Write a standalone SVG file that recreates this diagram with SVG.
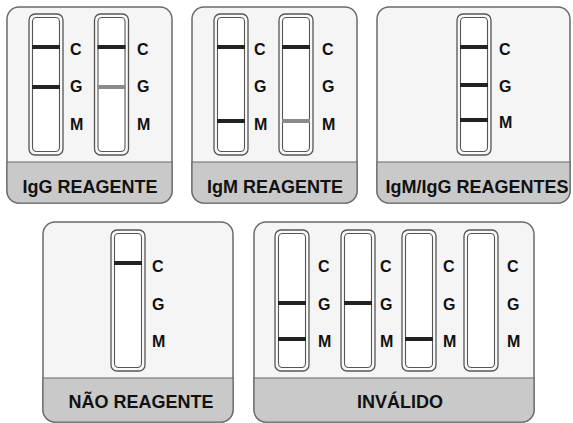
<svg xmlns="http://www.w3.org/2000/svg" width="573" height="423" viewBox="0 0 573 423">
<style>
.panel{fill:#f5f5f5;stroke:#6a6a6a;stroke-width:1.5}
.band{fill:#c9c9c9;stroke:#6a6a6a;stroke-width:1.2}
.so{fill:#fafafa;stroke:#555;stroke-width:1.3}
.si{fill:#fff;stroke:#555;stroke-width:1.1}
.ln{fill:#222}
.lf{fill:#8a8a8a}
.lt{font-family:"Liberation Sans",Arial,sans-serif;font-weight:bold;font-size:16px;fill:#111}
.tt{font-family:"Liberation Sans",Arial,sans-serif;font-weight:bold;font-size:18px;fill:#111;text-anchor:middle}
</style>
<rect width="573" height="423" fill="#fff"/>
<defs>
<g id="strip"><rect class="so" x="0" y="0" width="34" height="141" rx="6"/><rect class="si" x="3.5" y="3.5" width="27" height="134" rx="4"/></g>
</defs>

<g id="igg">
<rect class="panel" x="7" y="7" width="165" height="196" rx="12"/>
<path class="band" d="M7 162 H172 V191 A12 12 0 0 1 160 203 H19 A12 12 0 0 1 7 191 Z"/>
<use href="#strip" x="29" y="14"/>
<use href="#strip" x="94.5" y="14"/>
<rect class="ln" x="32" y="45" width="28" height="4"/>
<rect class="ln" x="32" y="85" width="28" height="4"/>
<rect class="ln" x="97.5" y="45" width="28" height="4"/>
<rect class="lf" x="97.5" y="85" width="28" height="4"/>
<text class="lt" x="70" y="55">C</text><text class="lt" x="70" y="92">G</text><text class="lt" x="70" y="130">M</text>
<text class="lt" x="137" y="55">C</text><text class="lt" x="137" y="92">G</text><text class="lt" x="137" y="130">M</text>
<text class="tt" x="90" y="193">IgG REAGENTE</text>
</g>

<g id="igm">
<rect class="panel" x="192" y="7" width="165" height="196" rx="12"/>
<path class="band" d="M192 162 H357 V191 A12 12 0 0 1 345 203 H204 A12 12 0 0 1 192 191 Z"/>
<use href="#strip" x="214" y="14"/>
<use href="#strip" x="279" y="14"/>
<rect class="ln" x="217" y="45" width="28" height="4"/>
<rect class="ln" x="217" y="119" width="28" height="4"/>
<rect class="ln" x="282" y="45" width="28" height="4"/>
<rect class="lf" x="282" y="119" width="28" height="4"/>
<text class="lt" x="254" y="55">C</text><text class="lt" x="254" y="92">G</text><text class="lt" x="254" y="130">M</text>
<text class="lt" x="322" y="55">C</text><text class="lt" x="322" y="92">G</text><text class="lt" x="322" y="130">M</text>
<text class="tt" x="275" y="193">IgM REAGENTE</text>
</g>

<g id="igmigg">
<rect class="panel" x="377" y="7" width="193" height="196" rx="12"/>
<path class="band" d="M377 162 H570 V191 A12 12 0 0 1 558 203 H389 A12 12 0 0 1 377 191 Z"/>
<use href="#strip" x="457" y="14"/>
<rect class="ln" x="460" y="45" width="28" height="4"/>
<rect class="ln" x="460" y="83" width="28" height="4"/>
<rect class="ln" x="460" y="118" width="28" height="4"/>
<text class="lt" x="499" y="55">C</text><text class="lt" x="499" y="92">G</text><text class="lt" x="499" y="128">M</text>
<text class="tt" x="477" y="193">IgM/IgG REAGENTES</text>
</g>

<g id="nao">
<rect class="panel" x="43" y="222" width="190" height="200" rx="12"/>
<path class="band" d="M43 378 H233 V410 A12 12 0 0 1 221 422 H55 A12 12 0 0 1 43 410 Z"/>
<use href="#strip" x="111" y="230"/>
<rect class="ln" x="114" y="261" width="28" height="4"/>
<text class="lt" x="152" y="272">C</text><text class="lt" x="152" y="310">G</text><text class="lt" x="152" y="347">M</text>
<text class="tt" x="141" y="408">NÃO REAGENTE</text>
</g>

<g id="invalido">
<rect class="panel" x="254" y="222" width="280" height="200" rx="12"/>
<path class="band" d="M254 378 H534 V410 A12 12 0 0 1 522 422 H266 A12 12 0 0 1 254 410 Z"/>
<use href="#strip" x="275" y="230"/>
<use href="#strip" x="341" y="230"/>
<use href="#strip" x="402" y="230"/>
<use href="#strip" x="464" y="230"/>
<rect class="ln" x="278" y="301" width="28" height="4"/>
<rect class="ln" x="278" y="337" width="28" height="4"/>
<rect class="ln" x="344" y="301" width="28" height="4"/>
<rect class="ln" x="405" y="337" width="28" height="4"/>
<text class="lt" x="318" y="272">C</text><text class="lt" x="318" y="310">G</text><text class="lt" x="318" y="347">M</text>
<text class="lt" x="380" y="272">C</text><text class="lt" x="380" y="310">G</text><text class="lt" x="380" y="347">M</text>
<text class="lt" x="443" y="272">C</text><text class="lt" x="443" y="310">G</text><text class="lt" x="443" y="347">M</text>
<text class="lt" x="507" y="272">C</text><text class="lt" x="507" y="310">G</text><text class="lt" x="507" y="347">M</text>
<text class="tt" x="400" y="408">INVÁLIDO</text>
</g>

<g id="connectors"/>
</svg>
